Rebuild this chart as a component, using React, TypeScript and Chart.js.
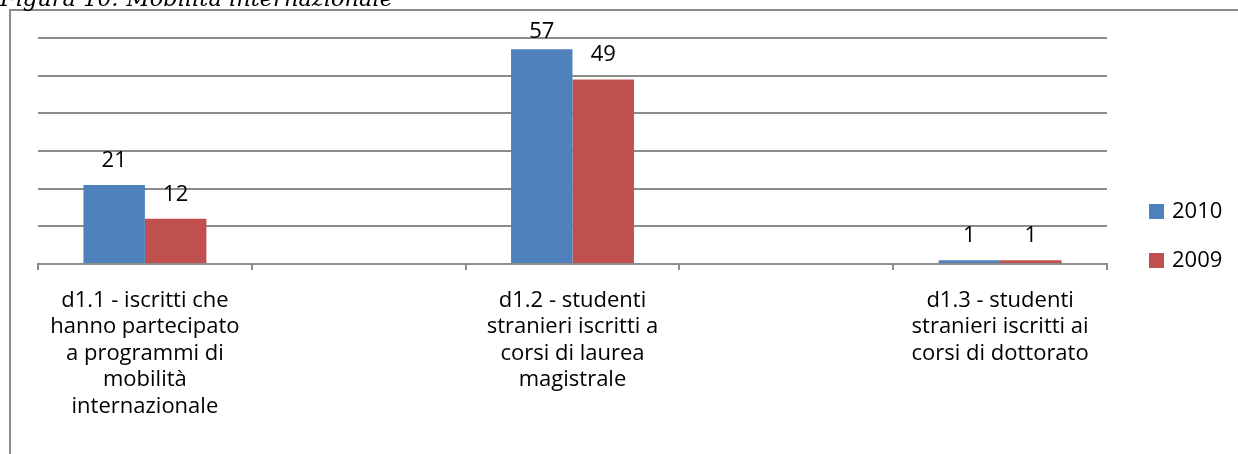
import React, { useEffect, useRef } from "react";
import { Chart, registerables } from "chart.js";

Chart.register(...registerables);

const TITLE = "Figura 10: Mobilità internazionale";
const CATEGORIES: (string | string[])[] = [
  ["d1.1 - iscritti che", "hanno partecipato", "a programmi di", "mobilità", "internazionale"],
  "",
  ["d1.2 - studenti", "stranieri iscritti a", "corsi di laurea", "magistrale"],
  "",
  ["d1.3 - studenti", "stranieri iscritti ai", "corsi di dottorato"],
];
const SERIES_NAMES = ["2010", "2009"];
const VALUES_2010: (number | null)[] = [21, null, 57, null, 1];
const VALUES_2009: (number | null)[] = [12, null, 49, null, 1];
const COLORS = ["#4F81BD", "#C0504D"];
const Y_MAX = 60;
const Y_STEP = 10;

const FONT = "'Open Sans', Lato, sans-serif";
const FONT_SIZE = 22;
const AXIS_FONT_SIZE = 22;
const GRID = "#8c8c8c";

const framePlugin = {
  id: "frame",
  beforeDraw(chart: any) {
    const ctx = chart.ctx;
    ctx.save();
    ctx.fillStyle = "#ffffff";
    ctx.fillRect(0, 0, chart.width, chart.height);
    ctx.strokeStyle = GRID;
    ctx.lineWidth = 2;
    ctx.beginPath();
    ctx.moveTo(10, chart.height);
    ctx.lineTo(10, 10);
    ctx.lineTo(chart.width, 10);
    ctx.stroke();
    // title (cut off at top)
    ctx.fillStyle = "#000";
    ctx.font = "italic 22px 'DejaVu Serif', serif";
    const w = ctx.measureText(TITLE).width;
    ctx.save();
    ctx.translate(0, 6);
    ctx.scale(393 / w, 1);
    ctx.textBaseline = "alphabetic";
    ctx.fillText(TITLE, 0, 0);
    ctx.restore();
    ctx.restore();
  },
};

const labelsPlugin = {
  id: "valueLabels",
  afterDatasetsDraw(chart: any) {
    const ctx = chart.ctx;
    const area = chart.chartArea;
    ctx.save();
    ctx.fillStyle = "#000";
    ctx.font = `${FONT_SIZE}px ${FONT}`;
    ctx.textAlign = "center";
    ctx.textBaseline = "alphabetic";
    chart.data.datasets.forEach((ds: any, i: number) => {
      const meta = chart.getDatasetMeta(i);
      meta.data.forEach((el: any, j: number) => {
        const v = ds.data[j];
        if (v === null || v === undefined) return;
        const y = Math.max(el.y - 18, area.top);
        ctx.fillText(String(v), el.x, y);
      });
    });
    ctx.restore();
  },
};

const legendPlugin = {
  id: "customLegend",
  afterDraw(chart: any) {
    const ctx = chart.ctx;
    const area = chart.chartArea;
    ctx.save();
    ctx.font = `${FONT_SIZE}px ${FONT}`;
    ctx.textBaseline = "middle";
    ctx.textAlign = "left";
    chart.data.datasets.forEach((ds: any, i: number) => {
      const cy = 211 + i * 49;
      const x = area.right + 42;
      ctx.fillStyle = ds.backgroundColor;
      ctx.fillRect(x, cy - 7, 15, 15);
      ctx.fillStyle = "#000";
      ctx.fillText(ds.label, x + 23, cy + 1);
    });
    ctx.restore();
  },
};

export default function App() {
  const ref = useRef<HTMLCanvasElement | null>(null);
  useEffect(() => {
    if (!ref.current) return;
    const chart = new Chart(ref.current, {
      type: "bar",
      data: {
        labels: CATEGORIES as any,
        datasets: [
          { label: SERIES_NAMES[0], data: VALUES_2010, backgroundColor: COLORS[0] },
          { label: SERIES_NAMES[1], data: VALUES_2009, backgroundColor: COLORS[1] },
        ],
      },
      options: {
        responsive: false,
        animation: false,
        devicePixelRatio: 1,
        layout: { padding: { left: 38, right: 131, top: 38, bottom: 0 } },
        plugins: { legend: { display: false }, tooltip: { enabled: false } },
        datasets: { bar: { categoryPercentage: 0.575, barPercentage: 1, skipNull: false } },
        scales: {
          x: {
            grid: {
              offset: true,
              drawOnChartArea: false,
              drawTicks: true,
              tickLength: 6,
              color: GRID,
              lineWidth: 2,
            },
            border: { display: true, color: GRID, width: 2 },
            ticks: {
              autoSkip: false,
              maxRotation: 0,
              minRotation: 0,
              padding: 17,
              color: "#000",
              font: { family: FONT, size: AXIS_FONT_SIZE, lineHeight: 1.21 },
            },
            afterFit: (s: any) => {
              s.height = 190;
            },
          },
          y: {
            min: 0,
            max: Y_MAX,
            ticks: { display: false, stepSize: Y_STEP },
            grid: { drawTicks: false, color: GRID, lineWidth: 2 },
            border: { display: false },
            afterFit: (s: any) => {
              s.width = 0;
            },
          },
        },
      },
      plugins: [framePlugin, labelsPlugin, legendPlugin],
    });
    return () => chart.destroy();
  }, []);
  return (
    <div style={{ position: "absolute", left: 0, top: 0, width: 1238, height: 454 }}>
      <canvas ref={ref} width={1238} height={454} />
    </div>
  );
}
